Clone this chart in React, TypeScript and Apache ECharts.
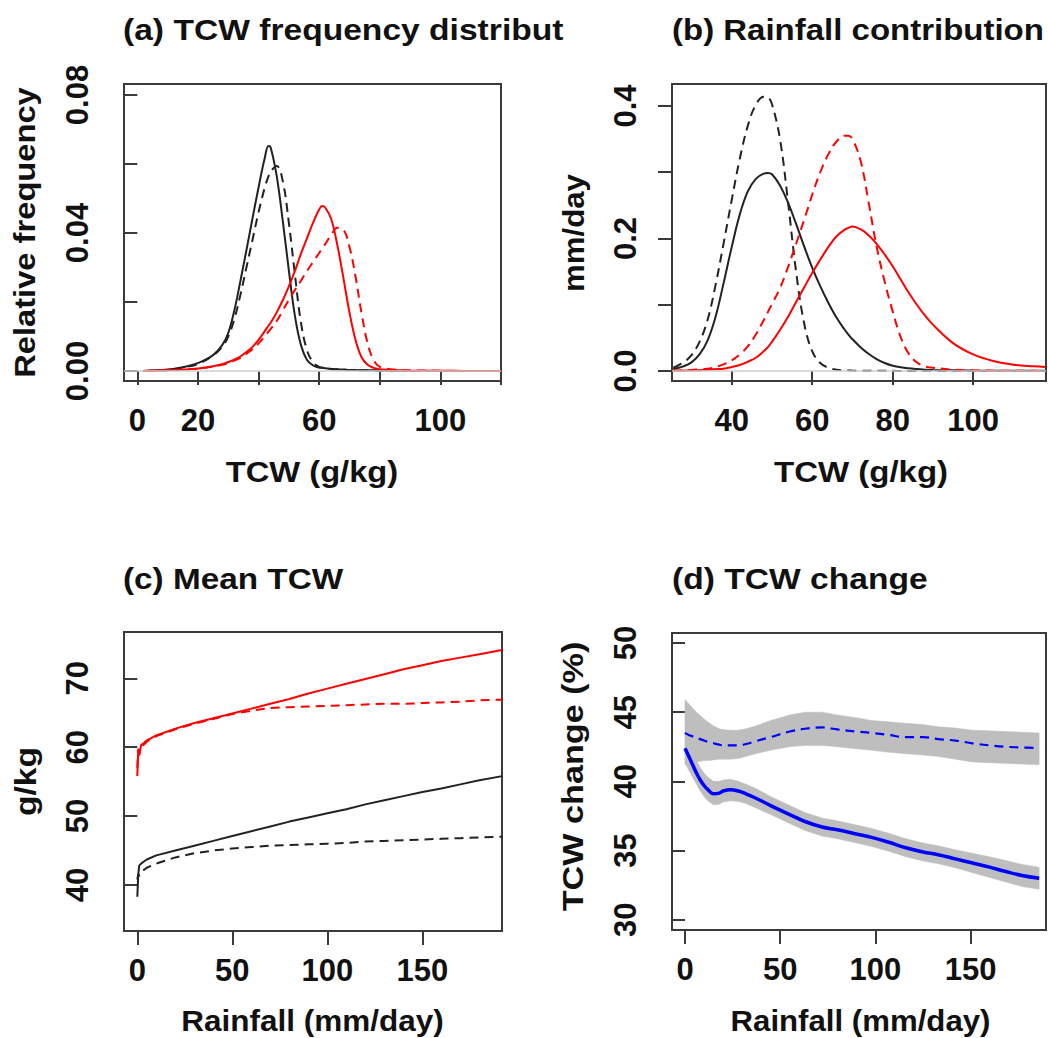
import React, { useEffect, useRef } from "react";
import * as echarts from "echarts";

const FONT = "'Liberation Sans', Arial, Helvetica, sans-serif";

// ---------- Panel (a): TCW frequency distribution ----------
const aX = [2, 10, 15, 20, 25, 28, 30, 32, 34, 36, 38, 40, 42, 43.3, 44, 46, 48, 50, 52, 54, 56, 58, 60, 61, 62, 64, 66, 68, 70, 72, 74, 76, 78, 80, 85, 90, 100, 110, 120];
const aBlackSolid = [0, 0.0004, 0.0011, 0.0023, 0.0046, 0.0075, 0.011, 0.0175, 0.026, 0.035, 0.0442, 0.0532, 0.0615, 0.0652, 0.0648, 0.0565, 0.0435, 0.0292, 0.016, 0.0075, 0.0032, 0.0016, 0.001, 0.0009, 0.0008, 0.0006, 0.0005, 0.0004, 0.0003, 0.0003, 0.0002, 0.0002, 0.0002, 0.0001, 0.0001, 0, 0, 0, 0];
const aBlackDashed = [0, 0.0003, 0.001, 0.002, 0.0045, 0.007, 0.01, 0.015, 0.022, 0.03, 0.038, 0.046, 0.053, 0.0565, 0.0578, 0.0594, 0.055, 0.043, 0.028, 0.014, 0.006, 0.0025, 0.0012, 0.001, 0.0008, 0.0006, 0.0005, 0.0004, 0.0003, 0.0003, 0.0002, 0.0002, 0.0002, 0.0001, 0.0001, 0, 0, 0, 0];
const aRedSolid = [0, 0.0002, 0.0004, 0.0007, 0.0014, 0.002, 0.0026, 0.0033, 0.0042, 0.0055, 0.007, 0.009, 0.0115, 0.0132, 0.014, 0.017, 0.0205, 0.0245, 0.029, 0.034, 0.0385, 0.043, 0.0468, 0.0478, 0.0474, 0.044, 0.0365, 0.027, 0.017, 0.009, 0.004, 0.0018, 0.0009, 0.0005, 0.0002, 0.0001, 0.0001, 0, 0];
const aRedDashed = [0, 0.0002, 0.0004, 0.0007, 0.0013, 0.0018, 0.0023, 0.003, 0.0038, 0.005, 0.0063, 0.008, 0.01, 0.0114, 0.0122, 0.0145, 0.0175, 0.0206, 0.0235, 0.0262, 0.029, 0.0316, 0.0342, 0.0355, 0.0368, 0.0395, 0.0415, 0.041, 0.036, 0.0274, 0.0167, 0.008, 0.0031, 0.0012, 0.0004, 0.0002, 0.0001, 0, 0];
const aXTicks = [0, 20, 40, 60, 80, 100, 120];
const aXLabels = [0, 20, 60, 100];
const aYTicks = [0, 0.02, 0.04, 0.06, 0.08];
const aYLabels = [0, 0.04, 0.08];

// ---------- Panel (b): Rainfall contribution ----------
const bX = [25.5, 28, 30, 32, 34, 36, 38, 40, 42, 44, 46, 48, 49, 50, 52, 54, 56, 58, 60, 62, 64, 66, 68, 69, 70, 72, 74, 76, 78, 80, 82, 84, 86, 88, 90, 95, 100, 105, 110, 115, 118];
const bBlackSolid = [0.003, 0.007, 0.013, 0.025, 0.046, 0.082, 0.133, 0.187, 0.236, 0.271, 0.29, 0.298, 0.299, 0.297, 0.28, 0.254, 0.222, 0.188, 0.156, 0.128, 0.103, 0.081, 0.063, 0.055, 0.048, 0.036, 0.026, 0.018, 0.012, 0.008, 0.0055, 0.004, 0.003, 0.002, 0.0015, 0.001, 0.0006, 0.0004, 0.0003, 0.0002, 0.0002];
const bBlackDashed = [0.005, 0.013, 0.024, 0.044, 0.077, 0.13, 0.193, 0.258, 0.32, 0.37, 0.402, 0.414, 0.413, 0.403, 0.35, 0.255, 0.15, 0.072, 0.03, 0.012, 0.005, 0.002, 0.001, 0.0008, 0.0006, 0.0004, 0.0003, 0.0003, 0.0002, 0.0002, 0.0001, 0.0001, 0.0001, 0.0001, 0.0001, 0, 0, 0, 0, 0, 0];
const bRedSolid = [0.0003, 0.0005, 0.0008, 0.0012, 0.0018, 0.0026, 0.0035, 0.006, 0.009, 0.014, 0.02, 0.03, 0.036, 0.044, 0.062, 0.082, 0.104, 0.126, 0.148, 0.168, 0.187, 0.203, 0.213, 0.216, 0.218, 0.214, 0.205, 0.192, 0.176, 0.158, 0.138, 0.118, 0.1, 0.084, 0.07, 0.042, 0.025, 0.015, 0.0095, 0.007, 0.006];
const bRedDashed = [0.0005, 0.001, 0.0015, 0.0025, 0.0035, 0.006, 0.01, 0.016, 0.025, 0.037, 0.055, 0.077, 0.089, 0.101, 0.125, 0.157, 0.192, 0.228, 0.266, 0.3, 0.327, 0.346, 0.355, 0.355, 0.35, 0.318, 0.255, 0.188, 0.135, 0.09, 0.051, 0.026, 0.013, 0.007, 0.005, 0.002, 0.001, 0.0005, 0.0003, 0.0002, 0.0001];
const bXTicks = [40, 60, 80, 100, 120];
const bXLabels = [40, 60, 80, 100];
const bYTicks = [0, 0.1, 0.2, 0.3, 0.4];
const bYLabels = [0, 0.2, 0.4];

// ---------- Panel (c): Mean TCW ----------
const cX = [0, 0.5, 1, 2, 3.5, 5, 10, 20, 30, 40, 50, 60, 70, 80, 90, 100, 110, 120, 130, 140, 150, 160, 170, 180, 192];
const cRedSolid = [55.8, 59.8, 58.8, 60.3, 60.6, 61.0, 61.7, 62.7, 63.5, 64.2, 64.9, 65.6, 66.3, 67.0, 67.8, 68.5, 69.2, 69.9, 70.6, 71.3, 71.9, 72.5, 73.0, 73.5, 74.1];
const cRedDashed = [57.0, 59.5, 59.0, 60.0, 60.4, 60.8, 61.6, 62.6, 63.4, 64.1, 64.8, 65.3, 65.7, 65.8, 65.9, 66.0, 66.1, 66.2, 66.3, 66.3, 66.4, 66.5, 66.6, 66.8, 66.9];
const cBlackSolid = [38.3, 41.5, 42.8, 43.1, 43.4, 43.7, 44.3, 45.0, 45.7, 46.4, 47.1, 47.8, 48.5, 49.2, 49.8, 50.4, 51.0, 51.7, 52.3, 52.9, 53.5, 54.0, 54.6, 55.2, 55.8];
const cBlackDashed = [40.8, 41.6, 41.3, 41.9, 42.2, 42.5, 43.1, 44.0, 44.6, 45.0, 45.3, 45.5, 45.7, 45.8, 45.9, 46.0, 46.1, 46.3, 46.4, 46.5, 46.6, 46.7, 46.8, 46.9, 47.0];
const cXTicks = [0, 50, 100, 150];
const cYTicks = [40, 50, 60, 70];

// ---------- Panel (d): TCW change ----------
const dX = [0, 2, 4, 6, 8, 10, 12, 15, 18, 20, 24, 28, 32, 37, 45, 55, 63, 72, 80, 90, 98, 107, 116, 125, 133, 142, 151, 160, 168, 177, 186];
const dSolid = [42.4, 41.8, 41.2, 40.6, 40.1, 39.7, 39.4, 39.1, 39.15, 39.3, 39.4, 39.3, 39.1, 38.8, 38.25, 37.6, 37.1, 36.7, 36.5, 36.2, 35.95, 35.6, 35.2, 34.9, 34.7, 34.4, 34.1, 33.8, 33.5, 33.2, 33.0];
const dSolidUpper = [43.5, 42.8, 42.15, 41.5, 41.0, 40.6, 40.3, 40.0, 40.0, 40.1, 40.15, 40.0, 39.8, 39.5, 38.9, 38.25, 37.75, 37.35, 37.15, 36.85, 36.6, 36.25, 35.85, 35.55, 35.35, 35.05, 34.8, 34.55, 34.3, 34.0, 33.8];
const dSolidLower = [41.3, 40.8, 40.3, 39.8, 39.3, 38.9, 38.6, 38.3, 38.35, 38.5, 38.6, 38.55, 38.4, 38.1, 37.6, 36.95, 36.45, 36.05, 35.85, 35.55, 35.3, 34.95, 34.55, 34.25, 34.05, 33.75, 33.4, 33.05, 32.75, 32.4, 32.2];
const dDashed = [43.5, 43.35, 43.25, 43.15, 43.05, 42.95, 42.85, 42.75, 42.65, 42.6, 42.6, 42.6, 42.7, 42.9, 43.2, 43.6, 43.8, 43.9, 43.75, 43.6, 43.5, 43.35, 43.2, 43.2, 43.05, 42.95, 42.75, 42.6, 42.5, 42.45, 42.4];
const dDashedUpper = [45.9, 45.6, 45.3, 45.0, 44.75, 44.5, 44.3, 44.0, 43.8, 43.75, 43.7, 43.7, 43.8, 44.0, 44.4, 44.8, 45.0, 45.0, 44.8, 44.6, 44.4, 44.3, 44.2, 44.1, 43.95, 43.85, 43.7, 43.65, 43.6, 43.55, 43.5];
const dDashedLower = [41.2, 41.3, 41.35, 41.4, 41.45, 41.5, 41.5, 41.55, 41.6, 41.6, 41.6, 41.65, 41.8, 42.0, 42.25, 42.5, 42.6, 42.6, 42.5, 42.35, 42.25, 42.1, 42.0, 41.9, 41.8, 41.6, 41.4, 41.35, 41.3, 41.25, 41.2];
const dXTicks = [0, 50, 100, 150];
const dYTicks = [30, 35, 40, 45, 50];

// ---------- Texts ----------
const titles = ["(a) TCW frequency distribut", "(b) Rainfall contribution", "(c) Mean TCW", "(d) TCW change"];
const xNames = ["TCW (g/kg)", "TCW (g/kg)", "Rainfall (mm/day)", "Rainfall (mm/day)"];
const yNames = ["Relative frequency", "mm/day", "g/kg", "TCW change (%)"];

const pairs = (xs: number[], ys: number[]) => xs.map((x, i) => [x, ys[i]]);

const BLACK = "#222222";
const RED = "#ff0000";
const BLUE = "#0000ff";
const BOX = "#3a3a3a";
const DASH = [9, 6];

function makeXAxis(gridIndex: number, min: number, max: number, ticks: number[], labels: number[]) {
  return {
    type: "value",
    gridIndex,
    min,
    max,
    axisLine: { show: false },
    splitLine: { show: false },
    axisTick: { show: true, length: 14, lineStyle: { color: BOX, width: 2 }, customValues: ticks },
    axisLabel: {
      customValues: labels,
      margin: 24,
      fontSize: 31,
      fontWeight: "bold",
      fontFamily: FONT,
      color: "#111",
      formatter: (v: number) => String(v),
    },
  };
}

function makeYAxis(gridIndex: number, min: number, max: number, ticks: number[], labels: number[], digits: number) {
  return {
    type: "value",
    gridIndex,
    min,
    max,
    axisLine: { show: false },
    splitLine: { show: false },
    axisTick: { show: true, length: 14, lineStyle: { color: BOX, width: 2 }, customValues: ticks },
    axisLabel: {
      customValues: labels,
      rotate: 90,
      margin: 31,
      fontSize: 31,
      fontWeight: "bold",
      fontFamily: FONT,
      color: "#111",
      formatter: (v: number) => (digits > 0 ? v.toFixed(digits) : String(v)),
    },
  };
}

function line(idx: number, xs: number[], ys: number[], color: string, dashed: boolean, width = 2, smooth: number | boolean = 0.4, extra: any = {}) {
  return {
    type: "line",
    xAxisIndex: idx,
    yAxisIndex: idx,
    data: pairs(xs, ys),
    showSymbol: false,
    symbol: "none",
    smooth,
    lineStyle: { color, width, type: dashed ? DASH : "solid" },
    z: 3,
    ...extra,
  };
}

function band(idx: number, xs: number[], lower: number[], upper: number[]) {
  return {
    type: "custom",
    coordinateSystem: "cartesian2d",
    xAxisIndex: idx,
    yAxisIndex: idx,
    silent: true,
    z: 1,
    data: [[xs[0], lower[0]]],
    encode: { x: 0, y: 1 },
    renderItem: (_params: any, api: any) => {
      const top = xs.map((x, i) => api.coord([x, upper[i]]));
      const bottom = xs.map((x, i) => api.coord([x, lower[i]])).reverse();
      return {
        type: "polygon",
        shape: { points: top.concat(bottom) },
        style: { fill: "#bebebe", stroke: "#bebebe", lineWidth: 0.5 },
      };
    },
  };
}

const zeroLine = {
  silent: true,
  symbol: "none",
  label: { show: false },
  lineStyle: { color: "#cfcfcf", type: "solid", width: 1.5 },
  data: [{ yAxis: 0 }],
};

const grids = [
  { left: 124, top: 84, width: 377, height: 297 },
  { left: 672, top: 84, width: 374, height: 297 },
  { left: 124, top: 632, width: 378, height: 299 },
  { left: 672, top: 633, width: 374, height: 297 },
];

function textEl(text: string, x: number, y: number, align: string, scaleX: number, rotation = 0) {
  return {
    type: "text",
    x,
    y,
    rotation,
    scaleX,
    style: {
      text,
      fill: "#111",
      font: `bold 30px ${FONT}`,
      align,
      verticalAlign: "middle",
    },
  };
}

const option: any = {
  animation: false,
  backgroundColor: "#ffffff",
  grid: grids.map((g) => ({ ...g, show: true, borderColor: BOX, borderWidth: 2, backgroundColor: "transparent", containLabel: false })),
  xAxis: [
    makeXAxis(0, -4.39, 120, aXTicks, aXLabels),
    makeXAxis(1, 25.17, 118.09, bXTicks, bXLabels),
    makeXAxis(2, -7.0, 191.9, cXTicks, cXTicks),
    makeXAxis(3, -6.83, 189.6, dXTicks, dXTicks),
  ],
  yAxis: [
    makeYAxis(0, -0.0029, 0.0832, aYTicks, aYLabels, 2),
    makeYAxis(1, -0.0151, 0.4332, bYTicks, bYLabels, 1),
    makeYAxis(2, 33.32, 76.72, cYTicks, cYTicks, 0),
    makeYAxis(3, 29.26, 50.72, dYTicks, dYTicks, 0),
  ],
  series: [
    line(0, aX, aBlackSolid, BLACK, false, 2, 0.4, { markLine: zeroLine }),
    line(0, aX, aBlackDashed, BLACK, true),
    line(0, aX, aRedSolid, RED, false),
    line(0, aX, aRedDashed, RED, true),
    line(1, bX, bBlackSolid, BLACK, false, 2, 0.4, { markLine: zeroLine }),
    line(1, bX, bBlackDashed, BLACK, true),
    line(1, bX, bRedSolid, RED, false),
    line(1, bX, bRedDashed, RED, true),
    line(2, cX, cRedSolid, RED, false, 2, false),
    line(2, cX, cRedDashed, RED, true, 2, false),
    line(2, cX, cBlackSolid, BLACK, false, 2, false),
    line(2, cX, cBlackDashed, BLACK, true, 2, false),
    band(3, dX, dDashedLower, dDashedUpper),
    band(3, dX, dSolidLower, dSolidUpper),
    line(3, dX, dDashed, BLUE, true, 2.2, 0.4),
    line(3, dX, dSolid, BLUE, false, 3.5, 0.4),
  ],
  graphic: [
    textEl(titles[0], 123, 30, "left", 1.12),
    textEl(titles[1], 672, 30, "left", 1.1),
    textEl(titles[2], 123, 578.5, "left", 1.11),
    textEl(titles[3], 672, 579, "left", 1.12),
    textEl(xNames[0], 312, 471.5, "center", 1.09),
    textEl(xNames[1], 861, 472, "center", 1.1),
    textEl(xNames[2], 312.5, 1021, "center", 1.05),
    textEl(xNames[3], 860.5, 1020.5, "center", 1.04),
    textEl(yNames[0], 25, 232.5, "center", 1.09, Math.PI / 2),
    textEl(yNames[1], 573, 233, "center", 1.04, Math.PI / 2),
    textEl(yNames[2], 26, 781.5, "center", 1.12, Math.PI / 2),
    textEl(yNames[3], 573, 776.5, "center", 1.14, Math.PI / 2),
  ],
};

export default function App() {
  const ref = useRef<HTMLDivElement>(null);
  useEffect(() => {
    document.body.style.margin = "0";
    const chart = echarts.init(ref.current as HTMLDivElement, null, { renderer: "svg" });
    chart.setOption(option);
    return () => chart.dispose();
  }, []);
  return <div ref={ref} style={{ width: 1048, height: 1038 }} />;
}
